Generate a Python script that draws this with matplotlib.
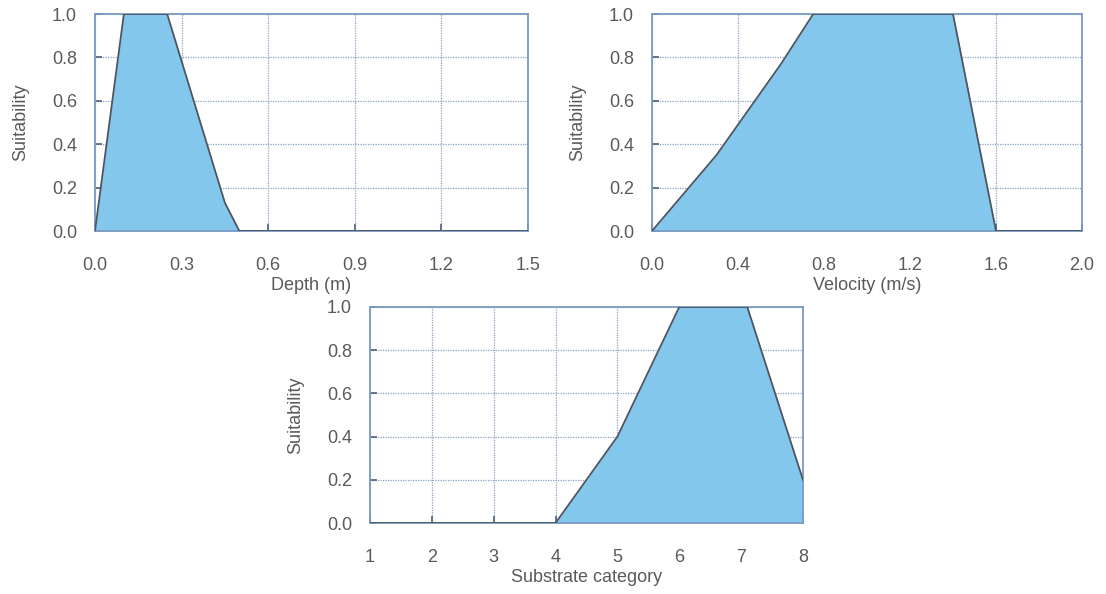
import matplotlib.pyplot as plt

plt.rcParams['font.family'] = ['Liberation Sans', 'DejaVu Sans']

# habitat suitability curves
depth = [0.0, 0.1, 0.25, 0.45, 0.5, 1.5]
depth_suit = [0.0, 1.0, 1.0, 0.13, 0.0, 0.0]

velocity = [0.0, 0.3, 0.6, 0.75, 1.4, 1.6, 2.0]
velocity_suit = [0.0, 0.35, 0.77, 1.0, 1.0, 0.0, 0.0]

substrate = [1, 4, 5, 6, 7.1, 8]
substrate_suit = [0.0, 0.0, 0.4, 1.0, 1.0, 0.2]

y_ticks = [0.0, 0.2, 0.4, 0.6, 0.8, 1.0]
depth_ticks = [0.0, 0.3, 0.6, 0.9, 1.2, 1.5]
velocity_ticks = [0.0, 0.4, 0.8, 1.2, 1.6, 2.0]
substrate_ticks = [1, 2, 3, 4, 5, 6, 7, 8]

fill_col = '#83c8ec'
edge_col = '#4d5560'
frame_col = '#7b9bc2'
grid_col = '#8ba2c4'
text_col = '#5a5a5a'

fig = plt.figure(figsize=(11.06, 5.94), dpi=100)


def suit_panel(rect, x, y, xticks, xlabel, fmt):
    ax = fig.add_axes(rect)
    ax.fill_between(x, y, 0, color=fill_col, lw=0, zorder=2)
    ax.plot(x, y, color=edge_col, lw=1.3, zorder=3)
    ax.set_xlim(xticks[0], xticks[-1])
    ax.set_ylim(0, 1)
    ax.set_xticks(xticks)
    ax.set_xticklabels([fmt.format(t) for t in xticks])
    ax.set_yticks(y_ticks)
    ax.set_yticklabels(['{:.1f}'.format(t) for t in y_ticks])
    ax.grid(True, color=grid_col, ls=(0, (1, 1)), lw=0.9, zorder=1)
    for s in ax.spines.values():
        s.set_color(frame_col)
        s.set_linewidth(1.3)
    ax.tick_params(direction='in', length=5, width=1.2, color='#4d5f78',
                   labelsize=13, labelcolor=text_col)
    ax.tick_params(axis='x', pad=19)
    ax.tick_params(axis='y', pad=13)
    ax.set_xlabel(xlabel, fontsize=13, color=text_col, labelpad=2)
    ax.set_ylabel('Suitability', fontsize=13, color=text_col, labelpad=16)
    return ax


suit_panel([0.0859, 0.6111, 0.3915, 0.3653], depth, depth_suit,
           depth_ticks, 'Depth (m)', '{:.1f}')
suit_panel([0.5895, 0.6111, 0.3888, 0.3653], velocity, velocity_suit,
           velocity_ticks, 'Velocity (m/s)', '{:.1f}')
suit_panel([0.3345, 0.1195, 0.3915, 0.3637], substrate, substrate_suit,
           substrate_ticks, 'Substrate category', '{:d}')

fig.savefig('out.png', dpi=100)
